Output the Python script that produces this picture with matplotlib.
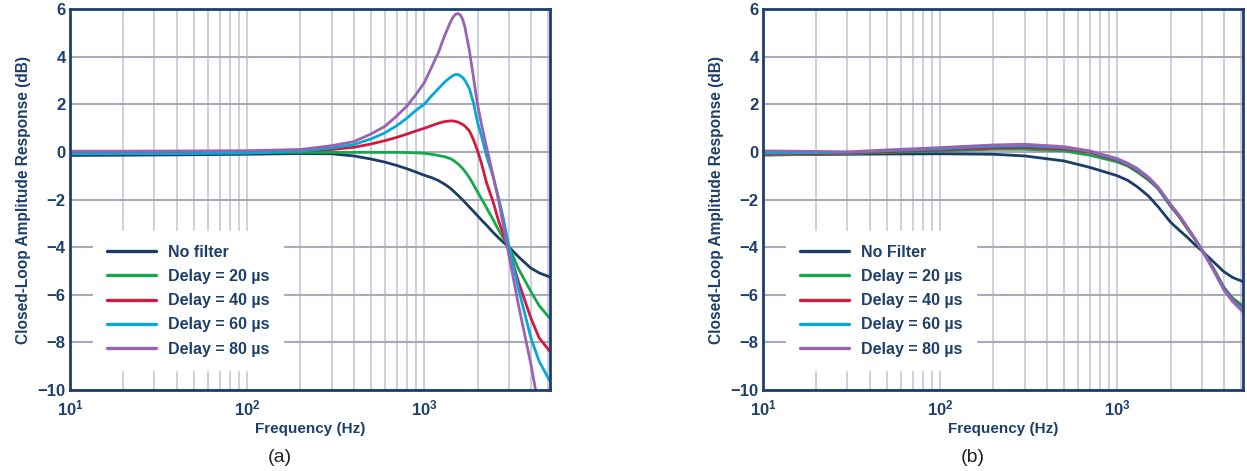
import numpy as np
import matplotlib
matplotlib.use("Agg")
import matplotlib.pyplot as plt
import matplotlib.ticker as ticker

# ---- data ----
freq_a = [10, 20, 50, 100, 200, 300, 400, 500, 600, 700, 800, 900, 1000, 1100, 1200, 1300,
          1400, 1450, 1500, 1550, 1600, 1650, 1700, 1800, 1900, 2000, 2100, 2250, 2450,
          2640, 2800, 3000, 3400, 4000, 4450, 5100]
nofilt_a = [-0.15, -0.14, -0.12, -0.1, -0.07, -0.08, -0.17, -0.3, -0.43, -0.57, -0.71, -0.85,
            -0.98, -1.08, -1.2, -1.35, -1.52, -1.62, -1.72, -1.82, -1.92, -2.02, -2.12,
            -2.32, -2.5, -2.68, -2.85, -3.08, -3.38, -3.62, -3.8, -3.98, -4.4, -4.88,
            -5.08, -5.25]
d20_a = [-0.03, -0.02, -0.02, -0.02, -0.02, -0.02, -0.02, -0.02, -0.02, -0.02, -0.03, -0.04,
         -0.06, -0.1, -0.15, -0.2, -0.28, -0.34, -0.42, -0.5, -0.6, -0.7, -0.82, -1.08,
         -1.38, -1.68, -1.95, -2.35, -2.85, -3.3, -3.62, -3.95, -4.9, -5.86, -6.45, -6.97]
d40_a = [0.0, 0.0, 0.0, 0.02, 0.05, 0.1, 0.19, 0.33, 0.47, 0.61, 0.75, 0.88, 0.99, 1.1, 1.2,
         1.27, 1.3, 1.3, 1.28, 1.25, 1.2, 1.15, 1.08, 0.88, 0.5, 0.05, -0.45, -1.3, -2.1,
         -2.94, -3.45, -4.05, -5.44, -6.97, -7.8, -8.36]
d60_a = [-0.08, -0.08, -0.07, -0.05, 0.03, 0.17, 0.31, 0.54, 0.8, 1.1, 1.42, 1.75, 2.0, 2.35,
         2.65, 2.92, 3.12, 3.2, 3.25, 3.25, 3.2, 3.12, 3.0, 2.65, 2.05, 1.25, 0.7, -0.17,
         -1.05, -1.97, -2.8, -3.92, -5.72, -7.8, -8.78, -9.6]
d80_a = [0.03, 0.03, 0.04, 0.05, 0.1, 0.26, 0.43, 0.75, 1.07, 1.51, 1.93, 2.42, 2.9, 3.55,
         4.15, 4.85, 5.42, 5.64, 5.77, 5.81, 5.75, 5.56, 5.22, 4.25, 3.1, 2.0, 1.2, 0.2, -1.0,
         -2.1, -3.1, -4.3, -6.4, -8.9, -10.8, -12.5]

freq_b = [10, 20, 30, 50, 100, 200, 300, 500, 700, 1000, 1150, 1300, 1500, 1700, 2000, 2250,
          2500, 2750, 3000, 3500, 4000, 4500, 5100]
nofilt_b = [-0.12, -0.11, -0.1, -0.09, -0.08, -0.1, -0.17, -0.38, -0.65, -1.0, -1.2, -1.47,
            -1.85, -2.3, -2.95, -3.3, -3.6, -3.9, -4.15, -4.62, -5.03, -5.28, -5.44]
d20_b = [-0.14, -0.1, -0.07, -0.02, 0.04, 0.11, 0.11, 0.04, -0.14, -0.42, -0.6, -0.85,
         -1.18, -1.55, -2.28, -2.75, -3.25, -3.68, -4.1, -4.9, -5.68, -6.15, -6.45]
d40_b = [-0.1, -0.07, -0.05, 0.01, 0.08, 0.17, 0.19, 0.12, -0.02, -0.36, -0.56, -0.8,
         -1.14, -1.52, -2.25, -2.73, -3.23, -3.67, -4.1, -4.92, -5.72, -6.2, -6.55]
d60_b = [-0.05, -0.03, -0.02, 0.05, 0.13, 0.24, 0.26, 0.18, 0.02, -0.32, -0.52, -0.75,
         -1.1, -1.5, -2.22, -2.7, -3.2, -3.66, -4.1, -4.95, -5.75, -6.25, -6.6]
d80_b = [0.04, 0.02, 0.0, 0.08, 0.18, 0.29, 0.32, 0.22, 0.04, -0.28, -0.48, -0.7,
         -1.06, -1.47, -2.2, -2.68, -3.18, -3.65, -4.1, -4.98, -5.8, -6.3, -6.7]

labels_a = ["No filter", "Delay = 20 µs", "Delay = 40 µs", "Delay = 60 µs", "Delay = 80 µs"]
labels_b = ["No Filter", "Delay = 20 µs", "Delay = 40 µs", "Delay = 60 µs", "Delay = 80 µs"]
colors = ["#1b3d66", "#13a84b", "#d11a40", "#06a8d6", "#9a62b0"]

yticks = [-10, -8, -6, -4, -2, 0, 2, 4, 6]
ytick_labels = ["\u221210", "\u22128", "\u22126", "\u22124", "\u22122", "0", "2", "4", "6"]
xticks = [10, 100, 1000]
xtick_labels = [r"$\mathbf{10^{1}}$", r"$\mathbf{10^{2}}$", r"$\mathbf{10^{3}}$"]

navy = "#1d3f6b"
plt.rcParams["font.family"] = ["Liberation Sans", "DejaVu Sans"]
plt.rcParams["mathtext.fontset"] = "custom"
plt.rcParams["mathtext.bf"] = "Liberation Sans:bold"
plt.rcParams["mathtext.rm"] = "Liberation Sans"

fig = plt.figure(figsize=(12.47, 4.71), dpi=100)
ax_a = fig.add_axes([70 / 1247, 1 - 390 / 471, 479.5 / 1247, 381 / 471])
ax_b = fig.add_axes([763 / 1247, 1 - 390 / 471, 479.5 / 1247, 381 / 471])


def draw(ax, freq, series, labels, tag):
    for ys, c, lab in zip(series, colors, labels):
        ax.plot(freq, ys, color=c, lw=2.0, label=lab, zorder=3, solid_capstyle="round",
                solid_joinstyle="round")
    ax.set_xscale("log")
    ax.set_xlim(10, 5100)
    ax.set_ylim(-10, 6)
    ax.set_yticks(yticks)
    ax.set_yticklabels(ytick_labels)
    ax.xaxis.set_major_locator(ticker.FixedLocator(xticks))
    ax.xaxis.set_major_formatter(ticker.FixedFormatter(xtick_labels))
    ax.xaxis.set_minor_locator(ticker.LogLocator(base=10, subs=range(2, 10), numticks=20))
    ax.xaxis.set_minor_formatter(ticker.NullFormatter())
    ax.grid(True, which="both", axis="x", color="#c6c7d7", lw=1.2, zorder=1)
    ax.grid(True, which="major", axis="y", color="#a8a9bd", lw=1.5, zorder=1)
    ax.set_axisbelow(True)
    ax.tick_params(which="both", length=0, labelsize=12, colors=navy)
    ax.tick_params(axis="x", pad=6)
    ax.tick_params(axis="y", pad=3)
    for t in ax.get_yticklabels():
        t.set_fontweight("bold")
    for s in ax.spines.values():
        s.set_color(navy)
        s.set_linewidth(2.0)
        s.set_zorder(4)
    ax.set_xlabel("Frequency (Hz)", fontsize=11, fontweight="bold", color=navy, labelpad=3)
    ax.set_ylabel("Closed-Loop Amplitude Response (dB)", fontsize=11.2, fontweight="bold",
                  color=navy, labelpad=5)
    leg = ax.legend(loc="upper left", bbox_to_anchor=(0.0486, 0.417), frameon=True,
                    fancybox=False, edgecolor="white", facecolor="white", framealpha=1,
                    handlelength=3.1, handletextpad=0.75, labelspacing=0.58,
                    borderpad=0.85, borderaxespad=0,
                    prop={"weight": "bold", "size": 11.5})
    leg.set_zorder(2.5)
    for t in leg.get_texts():
        t.set_color(navy)
    for h in leg.get_lines():
        h.set_linewidth(2.4)
    ax.text(0.438, -0.178, tag, transform=ax.transAxes, ha="center", va="center",
            fontsize=14, color="#222222",
            family=["Liberation Sans Narrow", "Liberation Sans", "DejaVu Sans"])


draw(ax_a, freq_a, [nofilt_a, d20_a, d40_a, d60_a, d80_a], labels_a, "(a)")
draw(ax_b, freq_b, [nofilt_b, d20_b, d40_b, d60_b, d80_b], labels_b, "(b)")

fig.savefig("out.png", dpi=100)
